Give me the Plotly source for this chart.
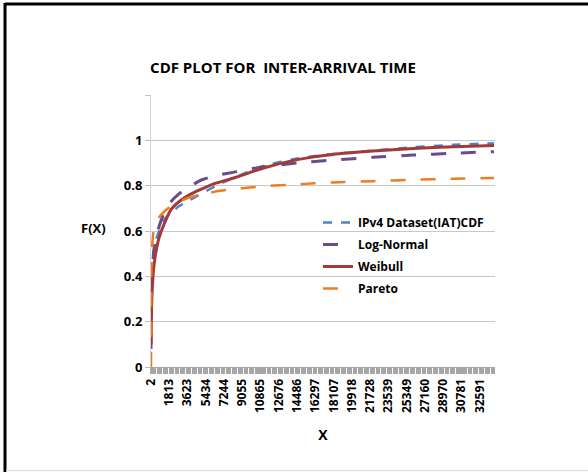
import plotly.graph_objects as go

# ---- data ----
x_vals = [2, 50, 100, 200, 300, 500, 800, 1300, 2000, 2800, 3800, 5000, 6500,
          8500, 11000, 14500, 18000, 22000, 26000, 30000, 34000]

ipv4_cdf = [0.33, 0.40, 0.44, 0.49, 0.52, 0.56, 0.60, 0.65, 0.68, 0.71, 0.735, 0.765,
            0.80, 0.84, 0.885, 0.92, 0.94, 0.955, 0.97, 0.98, 0.987]
lognormal = [0.08, 0.30, 0.40, 0.47, 0.52, 0.57, 0.62, 0.68, 0.73, 0.765, 0.795, 0.825,
             0.845, 0.862, 0.882, 0.900, 0.913, 0.925, 0.935, 0.943, 0.950]
weibull = [0.10, 0.25, 0.32, 0.40, 0.45, 0.51, 0.57, 0.63, 0.695, 0.73, 0.76, 0.785,
           0.812, 0.838, 0.876, 0.915, 0.938, 0.953, 0.964, 0.972, 0.977]
pareto = [0.0, 0.45, 0.52, 0.58, 0.61, 0.635, 0.66, 0.685, 0.71, 0.73, 0.748, 0.76,
          0.775, 0.786, 0.797, 0.806, 0.814, 0.820, 0.826, 0.830, 0.834]

x_tick_labels = ["2", "1813", "3623", "5434", "7244", "9055", "10865", "12676",
                 "14486", "16297", "18107", "19918", "21728", "23539", "25349",
                 "27160", "28970", "30781", "32591"]
y_tick_vals = [0, 0.2, 0.4, 0.6, 0.8, 1.0, 1.2]
y_tick_text = ["0", "0.2", "0.4", "0.6", "0.8", "1", ""]

series = [
    ("IPv4 Dataset(IAT)CDF", ipv4_cdf, "#4A86C8", "dash", 2.5),
    ("Log-Normal", lognormal, "#6A4C8C", "longdash", 3),
    ("Weibull", weibull, "#A23A3A", "solid", 3),
    ("Pareto", pareto, "#EE7D22", "longdash", 2.5),
]

FONT = "Open Sans"

fig = go.Figure()
for i, (name, ys, color, dash, w) in enumerate(series):
    fig.add_trace(go.Scatter(
        x=x_vals, y=ys, name=name, mode="lines",
        line=dict(color=color, dash=dash, width=w, shape="spline", smoothing=0.6),
        legendgroup=f"g{i}",
    ))

W, H = 588, 472
L, R, T, B = 151, 495, 95, 367

def px_x(p):
    return (p - L) / (R - L)

def px_y(p):
    return (B - p) / (B - T)

fig.update_layout(
    width=W, height=H,
    margin=dict(l=L, r=W - R, t=T, b=H - B),
    paper_bgcolor="white", plot_bgcolor="white",
    font=dict(family=FONT, color="#000000", size=12),
    title=dict(text="<b>CDF PLOT FOR  INTER-ARRIVAL TIME</b>",
               x=283 / W, xanchor="center", xref="container",
               y=1 - 68 / H, yanchor="middle", yref="container",
               font=dict(family=FONT, size=15, color="#000")),
    showlegend=True,
    legend=dict(x=px_x(318), y=px_y(208), xanchor="left", yanchor="top",
                bgcolor="rgba(0,0,0,0)", font=dict(family=FONT, size=12, weight="bold"),
                tracegroupgap=3, itemwidth=30),
    xaxis=dict(
        range=[2, 34100], tickmode="array",
        tickvals=[int(t) for t in x_tick_labels], ticktext=x_tick_labels,
        tickangle=-90, tickfont=dict(family=FONT, size=12, weight="bold"),
        ticks="outside", ticklen=6, tickcolor="#A6A6A6", tickwidth=1,
        minor=dict(ticks="outside", ticklen=6, tickcolor="#A6A6A6", dtick=120, tickwidth=1),
        showgrid=False, showline=True, linecolor="#A6A6A6", linewidth=1,
        zeroline=False,
        title=dict(text="<b>X</b>", font=dict(family=FONT, size=14), standoff=18),
    ),
    yaxis=dict(
        range=[0, 1.2], tickmode="array", tickvals=y_tick_vals, ticktext=y_tick_text,
        tickfont=dict(family=FONT, size=13, weight="bold"),
        ticks="outside", ticklen=5, tickcolor="#BFBFBF",
        showgrid=True, gridcolor="#C8C8C8", gridwidth=1,
        showline=True, linecolor="#D0D0D0", linewidth=1, zeroline=False,
    ),
)

fig.add_annotation(text="<b>F(X)</b>", x=px_x(93), y=px_y(228), xref="paper", yref="paper",
                   xanchor="center", yanchor="middle",
                   showarrow=False, font=dict(family=FONT, size=13))

# outer frame
fig.add_shape(type="line", xref="paper", yref="paper",
              x0=px_x(5), x1=px_x(600), y0=px_y(4), y1=px_y(4),
              line=dict(color="black", width=3))
fig.add_shape(type="line", xref="paper", yref="paper",
              x0=px_x(5), x1=px_x(5), y0=px_y(3), y1=px_y(480),
              line=dict(color="black", width=3))
fig.add_shape(type="line", xref="paper", yref="paper",
              x0=px_x(6), x1=px_x(600), y0=px_y(470.5), y1=px_y(470.5),
              line=dict(color="#E0E0E0", width=1.5))

fig.write_html("out.html")
